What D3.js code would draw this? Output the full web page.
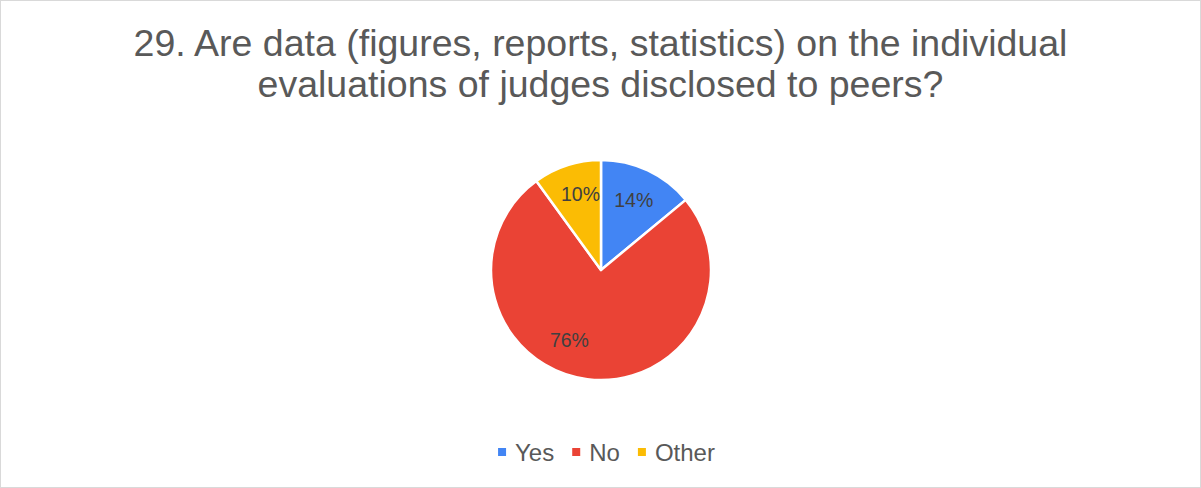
<!DOCTYPE html>
<html>
<head>
<meta charset="utf-8">
<script src="https://cdn.jsdelivr.net/npm/d3@7/dist/d3.min.js"></script>
<style>
  html, body { margin: 0; padding: 0; background: #fff; }
  svg { display: block; font-family: "Liberation Sans", Arial, sans-serif; }
</style>
</head>
<body>
<svg id="chart" width="1201" height="488"></svg>
<script>
const titleLines = [
  "29. Are data (figures, reports, statistics) on the individual",
  "evaluations of judges disclosed to peers?"
];
const categories = ["Yes", "No", "Other"];
const values = [14, 76, 10];
const colors = ["#4285F4", "#EA4335", "#FBBC04"];
// per-slice label nudge along the arc, in degrees
const labelNudge = [0, 17, 3];

const W = 1201, H = 488;
const svg = d3.select("#chart");

svg.append("rect")
  .attr("x", 0.5).attr("y", 0.5)
  .attr("width", W - 1).attr("height", H - 1)
  .attr("fill", "#fff").attr("stroke", "#d9d9d9");

svg.append("g").selectAll("text")
  .data(titleLines)
  .join("text")
  .attr("x", W / 2)
  .attr("y", (d, i) => 56 + i * 41)
  .attr("text-anchor", "middle")
  .attr("font-size", 37.5)
  .attr("fill", "#595959")
  .text(d => d);

const cx = 601, cy = 270, r = 110;
const pie = d3.pie().sort(null).value(d => d.v);
const arcs = pie(categories.map((c, i) => ({ c, v: values[i], i })));
const arc = d3.arc().innerRadius(0).outerRadius(r);

const g = svg.append("g").attr("transform", `translate(${cx},${cy})`);
g.selectAll("path")
  .data(arcs)
  .join("path")
  .attr("d", arc)
  .attr("fill", d => colors[d.data.i])
  .attr("stroke", "#fff")
  .attr("stroke-width", 2.5)
  .attr("stroke-linejoin", "round");

const total = d3.sum(values);
g.selectAll("text.lbl")
  .data(arcs)
  .join("text")
  .attr("class", "lbl")
  .each(function (d) {
    const a = (d.startAngle + d.endAngle) / 2 + labelNudge[d.data.i] * Math.PI / 180;
    const rr = r * (d.data.i === 2 ? 0.72 : 0.7);
    d3.select(this)
      .attr("x", rr * Math.sin(a))
      .attr("y", -rr * Math.cos(a));
  })
  .attr("text-anchor", "middle")
  .attr("dominant-baseline", "central")
  .attr("font-size", 19.5)
  .attr("fill", "#404040")
  .text(d => Math.round(d.data.v / total * 100) + "%");

// legend
const legend = svg.append("g");
const items = legend.selectAll("g")
  .data(categories)
  .join("g");
items.append("rect")
  .attr("width", 8).attr("height", 8)
  .attr("y", -4)
  .attr("fill", (d, i) => colors[i]);
items.append("text")
  .attr("x", 17)
  .attr("y", 8.5)
  .attr("font-size", 24)
  .attr("fill", "#595959")
  .text(d => d);

let xPos = 0;
const gap = 18;
items.each(function () {
  const w = this.getBBox().width;
  d3.select(this).attr("transform", `translate(${xPos},0)`);
  xPos += w + gap;
});
const totalW = xPos - gap;
legend.attr("transform", `translate(${(W - totalW) / 2 + 6},${452})`);
</script>
</body>
</html>
